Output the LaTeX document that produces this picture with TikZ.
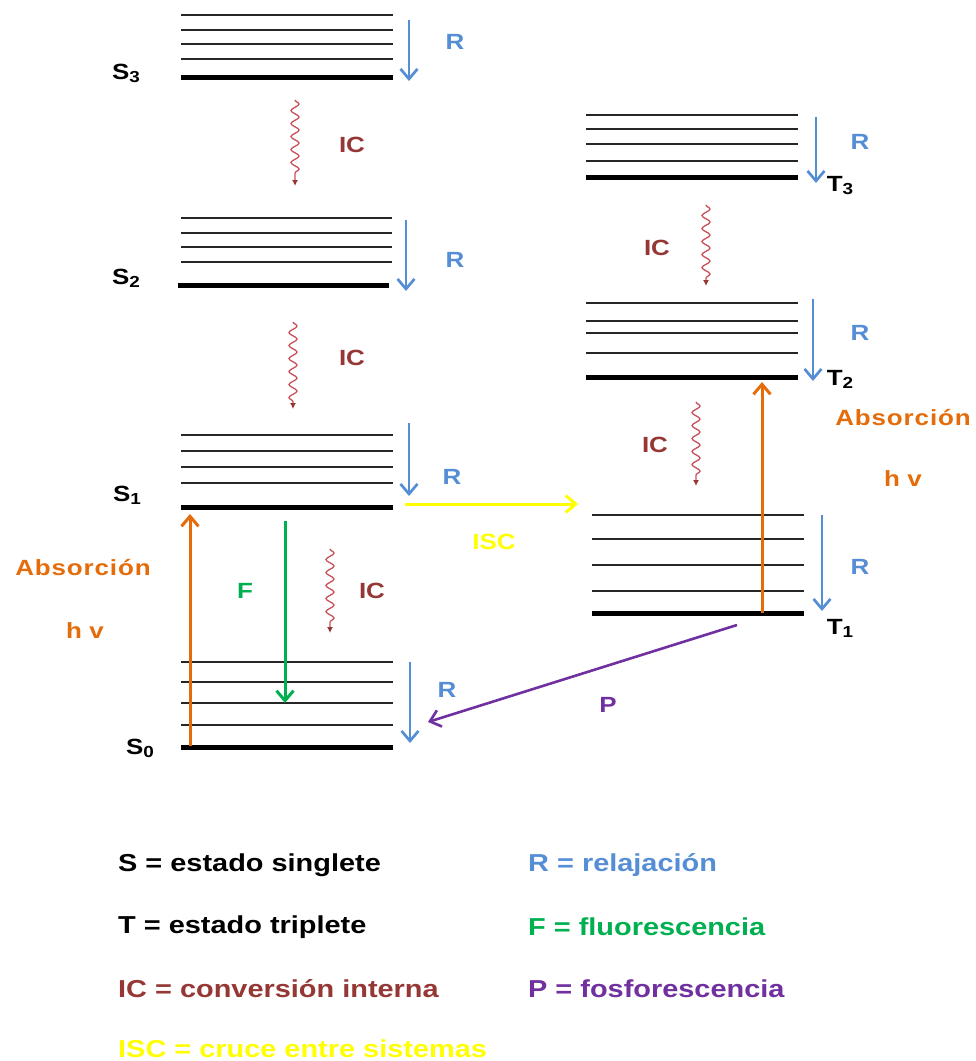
\documentclass[tikz,border=0pt]{standalone}
\usepackage{fontspec}
\setmainfont{Liberation Sans}[FakeStretch=1.18]
\usetikzlibrary{arrows.meta,decorations.pathmorphing}
\definecolor{cR}{RGB}{85,142,213}
\definecolor{cIC}{RGB}{149,55,53}
\definecolor{cWig}{RGB}{200,80,90}
\definecolor{cF}{RGB}{0,176,80}
\definecolor{cP}{RGB}{112,48,160}
\definecolor{cISC}{RGB}{255,255,0}
\definecolor{cAbs}{RGB}{228,108,10}
\newcommand\lvsub[1]{{\fontsize{16}{16}\selectfont\raisebox{-3pt}{#1}}}
\begin{document}
\begin{tikzpicture}[x=1pt,y=-1pt,
  thinlv/.style={line width=1.6pt,black!85},
  thicklv/.style={line width=5pt,black},
  txt/.style={font=\fontsize{22}{24}\selectfont\bfseries,inner sep=0pt},
  lbl/.style={txt,text=#1},
  stlab/.style={font=\fontsize{22}{24}\selectfont\bfseries,inner sep=0pt,text=black},
  legend/.style={font=\fontsize{24.5}{26}\selectfont\bfseries,inner sep=0pt,anchor=west,text=#1},
  rarrow/.style={cR,line width=2.7pt,-{Straight Barb[length=10pt,width=17pt,line width=2.7pt]}},
  absarrow/.style={cAbs,line width=3pt,-{Straight Barb[length=10pt,width=17pt,line width=3pt]}},
  farrow/.style={cF,line width=3pt,-{Straight Barb[length=10pt,width=17pt,line width=3pt]}},
  parrow/.style={cP,line width=2.6pt,-{Straight Barb[length=10pt,width=17pt,line width=2.6pt]}},
  iscarrow/.style={cISC,line width=3pt,-{Straight Barb[length=10pt,width=17pt,line width=3pt]}},
  wig/.style={cWig,line width=1.3pt,decorate,decoration={snake,amplitude=4pt,segment length=13pt,post length=7pt},
    -{Latex[length=6pt,width=6pt,color=cIC]}}
]
\useasboundingbox (0,0) rectangle (976,1061);

% ---------- S3 ----------
\foreach \y in {15,30,44,59} \draw[thinlv] (181,\y) -- (393,\y);
\draw[thicklv] (181,77) -- (393,77);
\node[stlab] (s3) at (126,73) {S\lvsub{3}};
\coordinate (rS3a) at (409,20); \coordinate (rS3b) at (409,81);
\draw[rarrow] (rS3a) -- (rS3b);
\node[lbl=cR] (lrS3) at (455,42) {R};
\coordinate (w1a) at (295,100); \coordinate (w1b) at (295,186);
\draw[wig] (w1a) -- (w1b);
\node[lbl=cIC] (ic1) at (352,145) {IC};

% ---------- S2 ----------
\foreach \y in {218,233,247,262} \draw[thinlv] (181,\y) -- (392,\y);
\draw[thicklv] (178,285) -- (389,285);
\node[stlab] (s2) at (126,278) {S\lvsub{2}};
\coordinate (rS2a) at (406,220); \coordinate (rS2b) at (406,291);
\draw[rarrow] (rS2a) -- (rS2b);
\node[lbl=cR] (lrS2) at (455,260) {R};
\coordinate (w2a) at (293,322); \coordinate (w2b) at (293,409);
\draw[wig] (w2a) -- (w2b);
\node[lbl=cIC] (ic2) at (352,358) {IC};

% ---------- S1 ----------
\foreach \y in {435,451,467,483} \draw[thinlv] (181,\y) -- (393,\y);
\draw[thicklv] (181,507) -- (393,507);
\node[stlab] (s1) at (127,495) {S\lvsub{1}};
\coordinate (rS1a) at (409,423); \coordinate (rS1b) at (409,496);
\draw[rarrow] (rS1a) -- (rS1b);
\node[lbl=cR] (lrS1) at (452,477) {R};

% ---------- S0 ----------
\foreach \y in {662,682,703,725} \draw[thinlv] (181,\y) -- (393,\y);
\draw[thicklv] (181,747) -- (393,747);
\node[stlab] (s0) at (140,748) {S\lvsub{0}};
\coordinate (rS0a) at (410,662); \coordinate (rS0b) at (410,743);
\draw[rarrow] (rS0a) -- (rS0b);
\node[lbl=cR] (lrS0) at (447,690) {R};

% absorption S0 -> S1
\coordinate (ab1a) at (190,746); \coordinate (ab1b) at (190,514);
\draw[absarrow] (ab1a) -- (ab1b);
\node[lbl=cAbs] (abs1) at (83,568) {\addfontfeature{LetterSpace=4}Absorción};
\node[lbl=cAbs] (hv1) at (85,631) {h\,\,v};

% fluorescence
\coordinate (fa) at (285,521); \coordinate (fb) at (285,703);
\draw[farrow] (fa) -- (fb);
\node[lbl=cF] (fl) at (245,591) {F};

% IC S1 -> S0
\coordinate (w3a) at (330,549); \coordinate (w3b) at (330,633);
\draw[wig] (w3a) -- (w3b);
\node[lbl=cIC] (ic3) at (372,591) {IC};

% ISC
\coordinate (isca) at (405,504); \coordinate (iscb) at (578,504);
\draw[iscarrow] (isca) -- (iscb);
\node[lbl=cISC] (isc) at (494,542) {ISC};

% ---------- T3 ----------
\foreach \y in {115,129,144,161} \draw[thinlv] (586,\y) -- (798,\y);
\draw[thicklv] (586,177) -- (798,177);
\node[stlab] (t3) at (840,186) {T\lvsub{3}};
\coordinate (rT3a) at (816,117); \coordinate (rT3b) at (816,183);
\draw[rarrow] (rT3a) -- (rT3b);
\node[lbl=cR] (lrT3) at (860,142) {R};
\coordinate (w4a) at (706,205); \coordinate (w4b) at (706,286);
\draw[wig] (w4a) -- (w4b);
\node[lbl=cIC] (ic4) at (657,248) {IC};

% ---------- T2 ----------
\foreach \y in {303,321,333,353} \draw[thinlv] (586,\y) -- (798,\y);
\draw[thicklv] (586,377) -- (798,377);
\node[stlab] (t2) at (840,379) {T\lvsub{2}};
\coordinate (rT2a) at (813,299); \coordinate (rT2b) at (813,381);
\draw[rarrow] (rT2a) -- (rT2b);
\node[lbl=cR] (lrT2) at (860,333) {R};
\coordinate (w5a) at (696,402); \coordinate (w5b) at (696,486);
\draw[wig] (w5a) -- (w5b);
\node[lbl=cIC] (ic5) at (655,445) {IC};

% ---------- T1 ----------
\foreach \y in {515,539,565,591} \draw[thinlv] (592,\y) -- (804,\y);
\draw[thicklv] (592,613) -- (804,613);
\node[stlab] (t1) at (840,628) {T\lvsub{1}};
\coordinate (rT1a) at (822,515); \coordinate (rT1b) at (822,611);
\draw[rarrow] (rT1a) -- (rT1b);
\node[lbl=cR] (lrT1) at (860,567) {R};

% absorption T1 -> T2
\coordinate (ab2a) at (762,613); \coordinate (ab2b) at (762,382);
\draw[absarrow] (ab2a) -- (ab2b);
\node[lbl=cAbs] (abs2) at (903,418) {\addfontfeature{LetterSpace=4}Absorción};
\node[lbl=cAbs] (hv2) at (903,479) {h\,\,v};

% phosphorescence
\coordinate (pa) at (737,625); \coordinate (pb) at (428,722);
\draw[parrow] (pa) -- (pb);
\node[lbl=cP] (pl) at (608,705) {P};

% ---------- legend ----------
\node[legend=black] (lg1) at (118,865) {S = estado singlete};
\node[legend=black] (lg2) at (118,927) {T = estado triplete};
\node[legend=cIC] (lg3) at (118,989) {IC = conversión interna};
\node[legend=cISC] (lg4) at (118,1049) {ISC = cruce entre sistemas};
\node[legend=cR] (lg5) at (528,865) {R = relajación};
\node[legend=cF] (lg6) at (528,927) {F = fluorescencia};
\node[legend=cP] (lg7) at (528,989) {P = fosforescencia};
\end{tikzpicture}
\end{document}
